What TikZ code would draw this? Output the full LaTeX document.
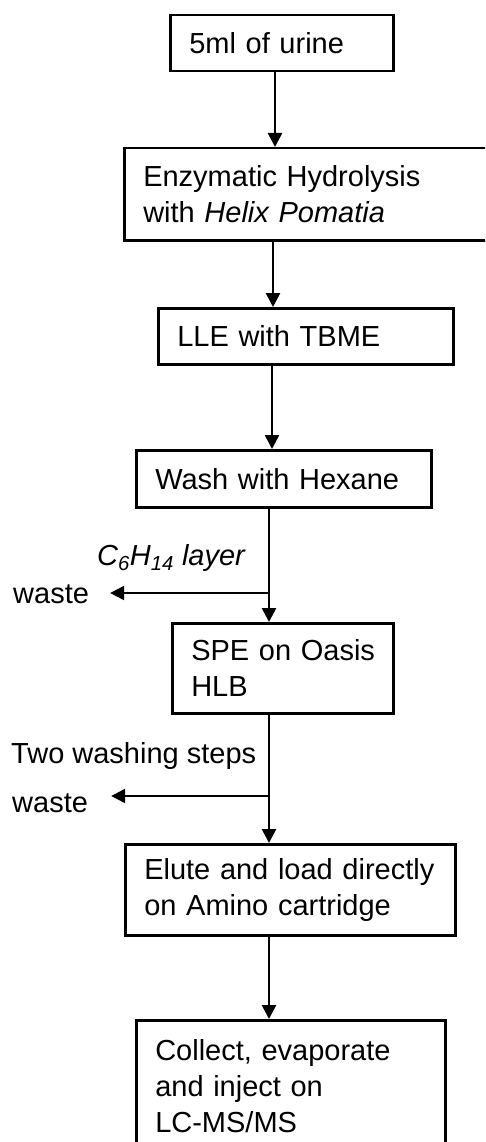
\documentclass[tikz,border=0pt]{standalone}
\usepackage{fontspec}
\setmainfont{Liberation Sans}
\usetikzlibrary{arrows.meta}

\begin{document}
\begin{tikzpicture}[x=1pt,y=-1pt,
  box/.style={draw,line width=2.5pt,anchor=north west,align=left,
    inner xsep=19pt,inner ysep=0pt,font=\fontsize{29}{36}\selectfont},
  arr/.style={line width=2.6pt,-{Triangle[length=14pt,width=14pt]}},
  side/.style={line width=2.2pt,-{Triangle[length=14pt,width=14pt]}},
  lbl/.style={inner sep=0pt,font=\fontsize{29}{36}\selectfont}]
\useasboundingbox (0,0) rectangle (485,1142);
\clip (0,0) rectangle (485,1142);

% the steps
\node[box,minimum width=223pt,minimum height=56pt,text width=185pt] (b1) at (169,14) {5ml of urine};
\node[box,minimum width=400pt,minimum height=92pt,text width=362pt] (b2) at (123,147) {Enzymatic Hydrolysis\\with \textit{Helix Pomatia}};
\node[box,minimum width=295pt,minimum height=56pt,text width=257pt] (b3) at (157,307) {LLE with TBME};
\node[box,minimum width=295pt,minimum height=57pt,text width=257pt] (b4) at (135,449) {Wash with Hexane};
\node[box,minimum width=221pt,minimum height=90pt,text width=183pt] (b5) at (171,622) {\mbox{SPE on Oasis}\\HLB};
\node[box,minimum width=330pt,minimum height=91pt,text width=292pt] (b6) at (124,843) {Elute and load directly\\on Amino cartridge};
\node[box,minimum width=309pt,minimum height=131pt,text width=271pt] (b7) at (135,1019) {Collect, evaporate\\and inject on\\LC-MS/MS};

% side labels
\node[lbl,anchor=base west,font=\fontsize{29}{36}\selectfont\itshape] (c1) at (97,565) {C\textsubscript{6}H\textsubscript{14} layer};
\node[lbl,anchor=base west] (w1) at (13,603) {waste};
\node[lbl,anchor=base west] (c2) at (11,763) {Two washing steps};
\node[lbl,anchor=base west] (w2) at (12,812) {waste};

% arrows down
\draw[arr] (b1.south -| 275,0) -- (b2.north -| 275,0);
\draw[arr] (b2.south -| 273,0) -- (b3.north -| 273,0);
\draw[arr] (b3.south -| 272,0) -- (b4.north -| 272,0);
\draw[arr] (b4.south -| 269,0) -- (b5.north -| 269,0);
\draw[arr] (b5.south -| 269,0) -- (b6.north -| 269,0);
\draw[arr] (b6.south -| 269,0) -- (b7.north -| 269,0);

% waste branches
\coordinate (j1) at (268,593);
\coordinate (j2) at (268,796);
\draw[side,shorten >=21pt] (j1) -- (j1 -| w1.east);
\draw[side,shorten >=23pt] (j2) -- (j2 -| w2.east);

\end{tikzpicture}
\end{document}
